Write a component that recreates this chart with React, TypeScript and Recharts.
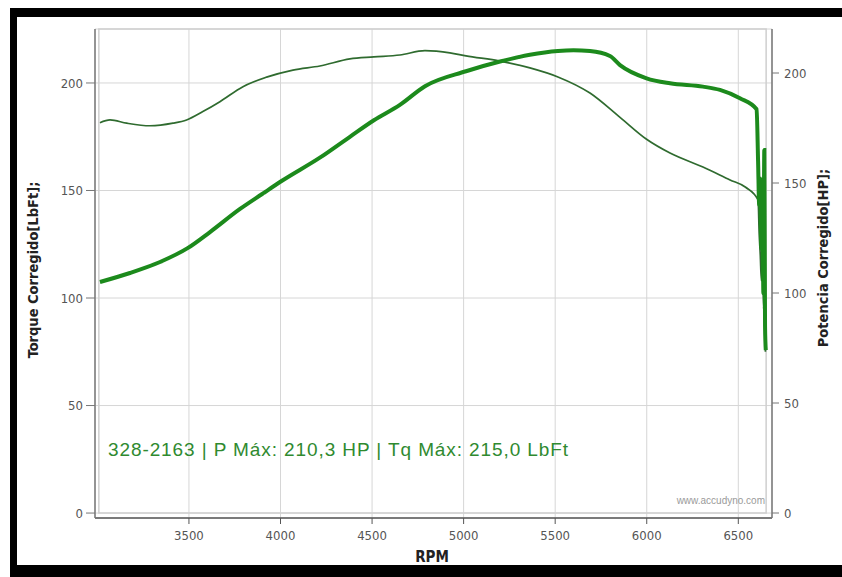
import React from "react";
import {
  ComposedChart,
  Line,
  XAxis,
  YAxis,
  CartesianGrid,
  ReferenceArea,
  Label,
} from "recharts";

// ---- data ----
const RPM_TORQUE = [
  3014, 3069, 3160, 3287, 3413, 3487, 3576, 3669, 3795, 3924, 4068, 4215, 4379, 4510, 4652, 4789,
  4925, 5013, 5199, 5362, 5515, 5690, 5854, 5999, 6127, 6307, 6455, 6540, 6608, 6614, 6620, 6626,
  6632, 6638, 6644, 6648,
];
const TORQUE = [
  181.5, 182.8, 181.3, 180.1, 181.3, 182.8, 186.7, 191.3, 198.3, 202.7, 206, 207.9, 211.2, 212.1,
  213, 215, 214, 212.6, 210.2, 207, 202.8, 195.3, 184, 173.8, 167.4, 160.9, 154.9, 151.5, 145.6, 130,
  120, 108, 118, 95, 110, 75,
];
const RPM_POWER = [
  3014, 3178, 3342, 3495, 3615, 3779, 3900, 4008, 4215, 4379, 4510, 4652, 4789, 5013, 5199, 5362,
  5515, 5600, 5690, 5799, 5854, 5999, 6127, 6307, 6400, 6509, 6600, 6608, 6614, 6620, 6626, 6632,
  6637, 6642, 6646, 6650,
];
const POWER = [
  105, 109.1, 114.1, 120.5, 127.7, 138.2, 145, 151, 161.5, 171, 178.5, 185.5, 194, 200.8, 205.2,
  208.3, 210, 210.3, 210, 207.7, 203.6, 197.6, 195.3, 193.8, 192.3, 188.5, 183.5, 160, 140, 152, 120,
  138, 100, 165, 85, 74,
];
const X_TICKS = [3500, 4000, 4500, 5000, 5500, 6000, 6500];
const Y_TICKS = [0, 50, 100, 150, 200];
const LEFT_TITLE = "Torque Corregido[LbFt];";
const RIGHT_TITLE = "Potencia Corregido[HP];";
const X_TITLE = "RPM";
const INFO_TEXT = "328-2163 | P Máx: 210,3 HP | Tq Máx: 215,0 LbFt";
const WATERMARK = "www.accudyno.com";

const torqueData = RPM_TORQUE.map((rpm, i) => ({ rpm, torque: TORQUE[i] }));
const powerData = RPM_POWER.map((rpm, i) => ({ rpm, power: POWER[i] }));

const TICK_FONT = "'Liberation Sans Narrow', 'DejaVu Sans Condensed', sans-serif";

const yTitle = (text: string, side: "left" | "right") => (props: any) => {
  const vb = props.viewBox || {};
  const cx = side === "left" ? vb.x - 2 : vb.x + vb.width + 11;
  const cy = vb.y + vb.height / 2 + (side === "left" ? -3.5 : -15.5);
  return (
    <text
      x={cx}
      y={cy}
      transform={`rotate(-90 ${cx} ${cy})`}
      textAnchor="middle"
      dominantBaseline="central"
      fontFamily={TICK_FONT}
      fontWeight="bold"
      fontSize={14.5}
      fill="#222"
    >
      {text}
    </text>
  );
};

const xTitle = (props: any) => {
  const vb = props.viewBox || {};
  const cx = vb.x + vb.width / 2 - 1.5;
  const cy = vb.y + vb.height + 9;
  return (
    <text
      x={cx}
      y={cy}
      textAnchor="middle"
      dominantBaseline="central"
      fontFamily={TICK_FONT}
      fontWeight="bold"
      fontSize={15}
      fill="#222"
    >
      {X_TITLE}
    </text>
  );
};

export default function App() {
  const tickStyle = { fill: "#555", fontSize: 13, fontFamily: TICK_FONT };
  return (
    <div
      style={{
        position: "fixed",
        left: 10,
        top: 8,
        width: 825,
        height: 548,
        borderLeft: "7px solid #000",
        borderTop: "9px solid #000",
        borderBottom: "12px solid #000",
        background: "#fff",
      }}
    >
      <ComposedChart width={825} height={548} margin={{ top: 12, right: 30, bottom: 17, left: 18 }}>
        <CartesianGrid yAxisId="left" stroke="#d6d6d6" horizontal vertical />
        <XAxis
          dataKey="rpm"
          type="number"
          domain={[2987, 6684]}
          ticks={X_TICKS}
          allowDataOverflow
          height={30}
          tickSize={6}
          tickMargin={7}
          tick={tickStyle}
          axisLine={{ stroke: "#555", strokeWidth: 1.5 }}
          tickLine={{ stroke: "#555" }}
        >
          <Label content={xTitle} />
        </XAxis>
        <YAxis
          yAxisId="left"
          type="number"
          domain={[-2.3, 225.1]}
          ticks={Y_TICKS}
          allowDataOverflow
          width={60}
          tickSize={9}
          tickMargin={3}
          tick={tickStyle}
          axisLine={{ stroke: "#777", strokeWidth: 1.5 }}
          tickLine={{ stroke: "#777" }}
        >
          <Label content={yTitle(LEFT_TITLE, "left")} />
        </YAxis>
        <YAxis
          yAxisId="right"
          orientation="right"
          type="number"
          domain={[-2.27, 220]}
          ticks={Y_TICKS}
          allowDataOverflow
          width={40}
          tickSize={7}
          tickMargin={5}
          tick={tickStyle}
          axisLine={{ stroke: "#777", strokeWidth: 1.5 }}
          tickLine={{ stroke: "#777" }}
        >
          <Label content={yTitle(RIGHT_TITLE, "right")} />
        </YAxis>
        <ReferenceArea
          yAxisId="left"
          x1={3008}
          x2={6652}
          y1={0}
          y2={225.1}
          fill="none"
          stroke="#cfcfcf"
          strokeWidth={1.5}
        />
        <Line
          yAxisId="left"
          data={torqueData}
          dataKey="torque"
          type="monotone"
          stroke="#2f6b2f"
          strokeWidth={1.7}
          dot={false}
          isAnimationActive={false}
        />
        <Line
          yAxisId="right"
          data={powerData}
          dataKey="power"
          type="monotone"
          stroke="#1c8a1c"
          strokeWidth={4}
          dot={false}
          isAnimationActive={false}
        />
      </ComposedChart>
      <div
        style={{
          position: "absolute",
          left: 91,
          top: 422,
          fontFamily: "'Liberation Sans', Arial, sans-serif",
          fontSize: 19,
          letterSpacing: 0.9,
          color: "#2f8a2f",
          whiteSpace: "nowrap",
        }}
      >
        {INFO_TEXT}
      </div>
      <div
        style={{
          position: "absolute",
          right: 77,
          top: 478,
          fontFamily: "'Liberation Sans', Arial, sans-serif",
          fontSize: 10,
          color: "#9a9a9a",
          whiteSpace: "nowrap",
        }}
      >
        {WATERMARK}
      </div>
    </div>
  );
}
